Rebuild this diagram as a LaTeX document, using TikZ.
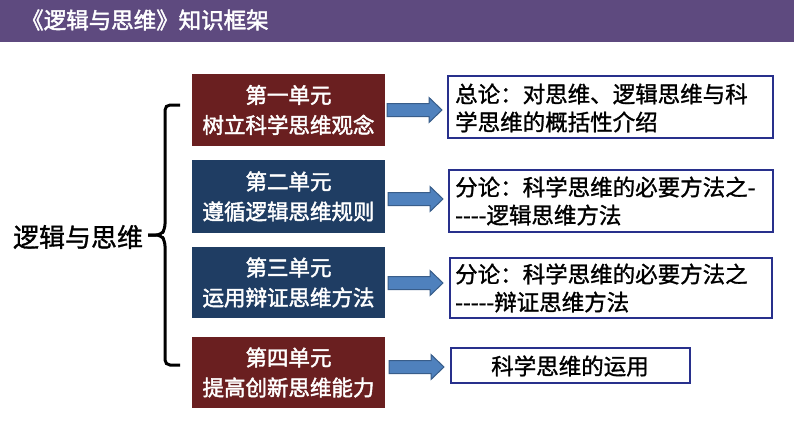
\documentclass[tikz,border=0pt]{standalone}
\usepackage{fontspec}
\setmainfont{Noto Sans CJK SC}
\newfontfamily\semib{Noto Sans CJK SC}[FakeBold=1.2]
\newfontfamily\semibw{Noto Sans CJK SC}[FakeBold=2]
\definecolor{hdr}{HTML}{5E4A7F}
\definecolor{unitred}{HTML}{6A1F20}
\definecolor{unitblue}{HTML}{1F3D63}
\definecolor{rborder}{HTML}{28308C}
\definecolor{arrfill}{HTML}{4F81BD}
\definecolor{arrline}{HTML}{385D8A}
\begin{document}
\begin{tikzpicture}[x=1pt,y=-1pt,
  unit/.style={draw=none,minimum width=193pt,inner sep=0pt,text=white,align=center,
    font=\semibw\fontsize{21.5}{30}\selectfont},
  redunit/.style={unit,fill=unitred},
  blueunit/.style={unit,fill=unitblue},
  rbox/.style={draw=rborder,line width=1.3pt,fill=white,inner sep=0pt},
  rtext/.style={anchor=west,align=left,inner sep=0pt,font=\semib\fontsize{22.5}{28}\selectfont},
  barrow/.style={fill=arrfill,draw=arrline,line width=1pt,line join=miter},
  bracestyle/.style={line width=3pt,draw=black}]
\useasboundingbox (0,0) rectangle (794,447);
\fill[white] (0,0) rectangle (794,447);
\fill[hdr] (0,0) rectangle (794,42);
\node[anchor=west,text=white,inner sep=0pt,font=\semibw\fontsize{22.5}{26}\selectfont] (title) at (21,20) {《逻辑与思维》知识框架};

\node[font=\semib\fontsize{26}{30}\selectfont,inner sep=0pt] (root) at (78,237) {逻辑与思维};

% left unit boxes
\node[redunit,minimum height=72pt] (L1) at (288.5,110) {第一单元\\树立科学思维观念};
\node[blueunit,minimum height=73pt] (L2) at (288.5,196.5) {第二单元\\遵循逻辑思维规则};
\node[blueunit,minimum height=71pt] (L3) at (288.5,282.5) {第三单元\\运用辩证思维方法};
\node[redunit,minimum height=71pt] (L4) at (288.5,372.5) {第四单元\\提高创新思维能力};

% right boxes
\node[rbox,minimum width=325pt,minimum height=62pt] (R1) at (610.5,107) {};
\node[rbox,minimum width=324pt,minimum height=62pt] (R2) at (611,201) {};
\node[rbox,minimum width=322pt,minimum height=60pt] (R3) at (611,288) {};
\node[rbox,minimum width=239pt,minimum height=35pt] (R4) at (570.5,365.5) {};
\node[rtext] (T1) at (455,108) {总论：对思维、逻辑思维与科\\学思维的概括性介绍};
\node[rtext] (T2) at (455,201) {分论：科学思维的必要方法之-\\-{}-{}-{}-逻辑思维方法};
\node[rtext] (T3) at (455,288) {分论：科学思维的必要方法之\\-{}-{}-{}-{}-辩证思维方法};
\node[inner sep=0pt,font=\semib\fontsize{22.5}{28}\selectfont] (T4) at (570,366) {科学思维的运用};

% brace
\coordinate (btop) at (180,105);
\coordinate (bbot) at (180,365);
\coordinate (btip) at (148,235);
\draw[bracestyle,rounded corners=5pt] (btop) -- (165,105) -- (165,229) -- (161,235) -- (btip);
\draw[bracestyle,rounded corners=5pt] (bbot) -- (165,365) -- (165,241) -- (161,235) -- (btip);

% block arrows
\coordinate (a1) at (387,110);
\coordinate (a2) at (388,199);
\coordinate (a3) at (388,283);
\coordinate (a4) at (389,367);
\foreach \a in {a1,a2,a3,a4}{
  \draw[barrow] (\a) ++(0,-6.5) -- ++(42,0) -- ++(0,-6) -- ++(13,12.5) -- ++(-13,12.5) -- ++(0,-6) -- ++(-42,0) -- cycle;
}
\end{tikzpicture}
\end{document}
